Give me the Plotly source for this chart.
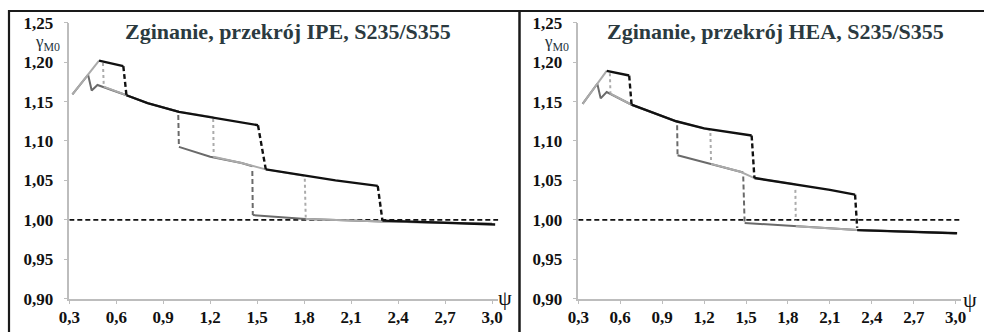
import plotly.graph_objects as go

W, H = 984, 332

# ---------------- data: IPE (left panel) ----------------
ipe_dark_x = [[0.32, 0.42, 0.443, 0.48, 0.665, 0.8, 1.0],
              [1.0, 1.2, 1.4, 1.47],
              [1.472, 1.81, 2.3, 3.0]]
ipe_dark_y = [[1.159, 1.184, 1.164, 1.171, 1.158, 1.148, 1.137],
              [1.0925, 1.080, 1.072, 1.068],
              [1.006, 1.001, 0.998, 0.995]]
ipe_dark_drop_x = [[0.996, 1.0], [1.469, 1.472]]
ipe_dark_drop_y = [[1.133, 1.0925], [1.062, 1.006]]

ipe_light_x = [[0.32, 0.42, 0.49],
               [0.52, 0.665, 0.8, 1.0, 1.22],
               [1.22, 1.4, 1.555, 1.8],
               [1.81, 2.3, 3.0]]
ipe_light_y = [[1.159, 1.184, 1.202],
               [1.169, 1.158, 1.148, 1.137, 1.130],
               [1.080, 1.072, 1.064, 1.056],
               [1.001, 0.998, 0.995]]
ipe_light_drop_x = [[0.515, 0.52], [1.219, 1.222], [1.804, 1.81]]
ipe_light_drop_y = [[1.199, 1.170], [1.128, 1.083], [1.052, 1.003]]

ipe_black_x = [[0.49, 0.645],
               [0.665, 0.8, 1.0, 1.2, 1.505],
               [1.555, 1.8, 2.0, 2.27],
               [2.30, 2.6, 3.02]]
ipe_black_y = [[1.202, 1.195],
               [1.158, 1.148, 1.137, 1.130, 1.120],
               [1.064, 1.056, 1.050, 1.043],
               [0.999, 0.997, 0.994]]
ipe_black_drop_x = [[0.645, 0.665], [1.505, 1.555], [2.27, 2.30]]
ipe_black_drop_y = [[1.195, 1.158], [1.120, 1.064], [1.043, 0.999]]

# ---------------- data: HEA (right panel) ----------------
hea_dark_x = [[0.331, 0.436, 0.46, 0.503, 0.681, 1.0, 1.007],
              [1.01, 1.33, 1.46, 1.48],
              [1.49, 1.856, 2.295, 3.0]]
hea_dark_y = [[1.147, 1.1726, 1.154, 1.162, 1.146, 1.125, 1.1246],
              [1.082, 1.067, 1.061, 1.060],
              [0.996, 0.992, 0.987, 0.983]]
hea_dark_drop_x = [[1.007, 1.01], [1.48, 1.49]]
hea_dark_drop_y = [[1.120, 1.082], [1.055, 0.996]]

hea_light_x = [[0.331, 0.436, 0.503],
               [0.53, 0.681, 1.0, 1.245],
               [1.25, 1.33, 1.46, 1.56, 1.853],
               [1.856, 2.295, 3.0]]
hea_light_y = [[1.147, 1.1726, 1.189],
               [1.160, 1.146, 1.125, 1.114],
               [1.071, 1.067, 1.061, 1.053, 1.045],
               [0.992, 0.987, 0.983]]
hea_light_drop_x = [[0.526, 0.53], [1.245, 1.25], [1.853, 1.856]]
hea_light_drop_y = [[1.186, 1.160], [1.110, 1.072], [1.038, 0.999]]

hea_black_x = [[0.503, 0.664],
               [0.681, 1.0, 1.2, 1.45, 1.54],
               [1.56, 1.85, 2.1, 2.28],
               [2.295, 2.6, 3.01]]
hea_black_y = [[1.189, 1.183],
               [1.146, 1.125, 1.116, 1.110, 1.107],
               [1.053, 1.045, 1.038, 1.032],
               [0.987, 0.985, 0.983]]
hea_black_drop_x = [[0.664, 0.681], [1.54, 1.56], [2.28, 2.295]]
hea_black_drop_y = [[1.183, 1.146], [1.107, 1.053], [1.032, 0.990]]

ref_x = [0.3, 3.04]
ref_y = [1.0, 1.0]

x_ticks = [0.3, 0.6, 0.9, 1.2, 1.5, 1.8, 2.1, 2.4, 2.7, 3.0]
x_tick_text = ["0,3", "0,6", "0,9", "1,2", "1,5", "1,8", "2,1", "2,4", "2,7", "3,0"]
y_ticks = [0.90, 0.95, 1.00, 1.05, 1.10, 1.15, 1.20, 1.25]
y_tick_text = ["0,90", "0,95", "1,00", "1,05", "1,10", "1,15", "1,20", "1,25"]

titles = ["Zginanie, przekrój IPE, S235/S355", "Zginanie, przekrój HEA, S235/S355"]

# ---------------- styles ----------------
DARK = "#6a6a6a"
LIGHT = "#ababab"
BLACK = "#111111"
SERIF = "Liberation Serif"

fig = go.Figure()


def add_series(xs, ys, dxs, dys, color, width, dash, xa, ya):
    for x, y in zip(xs, ys):
        fig.add_trace(go.Scatter(x=x, y=y, mode="lines", xaxis=xa, yaxis=ya,
                                 line=dict(color=color, width=width),
                                 hoverinfo="skip", showlegend=False))
    for x, y in zip(dxs, dys):
        fig.add_trace(go.Scatter(x=x, y=y, mode="lines", xaxis=xa, yaxis=ya,
                                 line=dict(color=color, width=width, dash=dash),
                                 hoverinfo="skip", showlegend=False))


panels = [
    ("x", "y", (ipe_dark_x, ipe_dark_y, ipe_dark_drop_x, ipe_dark_drop_y),
     (ipe_light_x, ipe_light_y, ipe_light_drop_x, ipe_light_drop_y),
     (ipe_black_x, ipe_black_y, ipe_black_drop_x, ipe_black_drop_y)),
    ("x2", "y2", (hea_dark_x, hea_dark_y, hea_dark_drop_x, hea_dark_drop_y),
     (hea_light_x, hea_light_y, hea_light_drop_x, hea_light_drop_y),
     (hea_black_x, hea_black_y, hea_black_drop_x, hea_black_drop_y)),
]

for xa, ya, dark, light, black in panels:
    fig.add_trace(go.Scatter(x=ref_x, y=ref_y, mode="lines", xaxis=xa, yaxis=ya,
                             line=dict(color=BLACK, width=1.8, dash="5px,3px"),
                             hoverinfo="skip", showlegend=False))
    add_series(*dark, DARK, 2, "5px,3px", xa, ya)
    add_series(*light, LIGHT, 2, "3px,3px", xa, ya)
    add_series(*black, BLACK, 2.4, "5px,3px", xa, ya)

# axis domains in pixels
yb, yt = 298.7, 22.7
y_dom = [(H - yb) / H, (H - yt) / H]
lx0, lx1 = 69.3, 498.3
rx0, rx1 = 578.3, 961.3

axis_common = dict(showline=True, linecolor="#bdbdbd", linewidth=1.5,
                   ticks="outside", tickcolor="#bdbdbd", showgrid=False,
                   zeroline=False, fixedrange=True, automargin=False)
tfont = dict(family=SERIF, size=17, color=BLACK, weight="bold")

fig.update_layout(
    width=W, height=H, margin=dict(l=0, r=0, t=0, b=0, pad=0),
    paper_bgcolor="white", plot_bgcolor="white",
    font=dict(family=SERIF),
    xaxis=dict(domain=[lx0 / W, lx1 / W], range=[0.3, 3.04], anchor="y",
               tickvals=x_ticks, ticktext=x_tick_text, ticklen=4,
               tickfont=tfont, ticklabelstandoff=-2, **axis_common),
    yaxis=dict(domain=y_dom, range=[0.9, 1.25], anchor="x",
               tickvals=y_ticks, ticktext=y_tick_text, ticklen=4,
               tickfont=tfont, ticklabelstandoff=7, **axis_common),
    xaxis2=dict(domain=[rx0 / W, rx1 / W], range=[0.3, 3.04], anchor="y2",
                tickvals=x_ticks, ticktext=x_tick_text, ticklen=4,
                tickfont=tfont, ticklabelstandoff=-2, **axis_common),
    yaxis2=dict(domain=y_dom, range=[0.9, 1.25], anchor="x2",
                tickvals=y_ticks, ticktext=y_tick_text, ticklen=4,
                tickfont=tfont, ticklabelstandoff=7, **axis_common),
)

# frame lines
frame = [(8 / W, 1 - 11 / H, 1.0, 1 - 11 / H),
         (9 / W, 1 - 10 / H, 9 / W, 0.0),
         (519.5 / W, 1 - 10 / H, 519.5 / W, 0.0)]
for i, (x0, y0, x1, y1) in enumerate(frame):
    fig.add_shape(type="line", xref="paper", yref="paper", x0=x0, y0=y0, x1=x1, y1=y1,
                  line=dict(color="#1a1a1a", width=2.5 if i == 2 else 2.2))

# titles
for cx, t in zip([288, 775], titles):
    fig.add_annotation(xref="paper", yref="paper", x=cx / W, y=1 - 31 / H,
                       text="<b>" + t + "</b>", showarrow=False, xanchor="center",
                       yanchor="middle",
                       font=dict(family=SERIF, size=22, color="#2b3a40"))

# y-axis labels (gamma M0)
for cx in [47, 556]:
    fig.add_annotation(xref="paper", yref="paper", x=cx / W, y=1 - 43 / H,
                       text="γ<sub>M0</sub>", showarrow=False, xanchor="center",
                       yanchor="middle", borderpad=0,
                       font=dict(family=SERIF, size=17, color="#23323c"))

# x-axis labels (psi)
for cx, cy in [(505, 297), (970, 299)]:
    fig.add_annotation(xref="paper", yref="paper", x=cx / W, y=1 - cy / H,
                       text="ψ", showarrow=False, xanchor="center", yanchor="middle",
                       font=dict(family=SERIF, size=22, color=BLACK))

fig.write_html("out.html", post_script="document.body.style.margin='0';")
